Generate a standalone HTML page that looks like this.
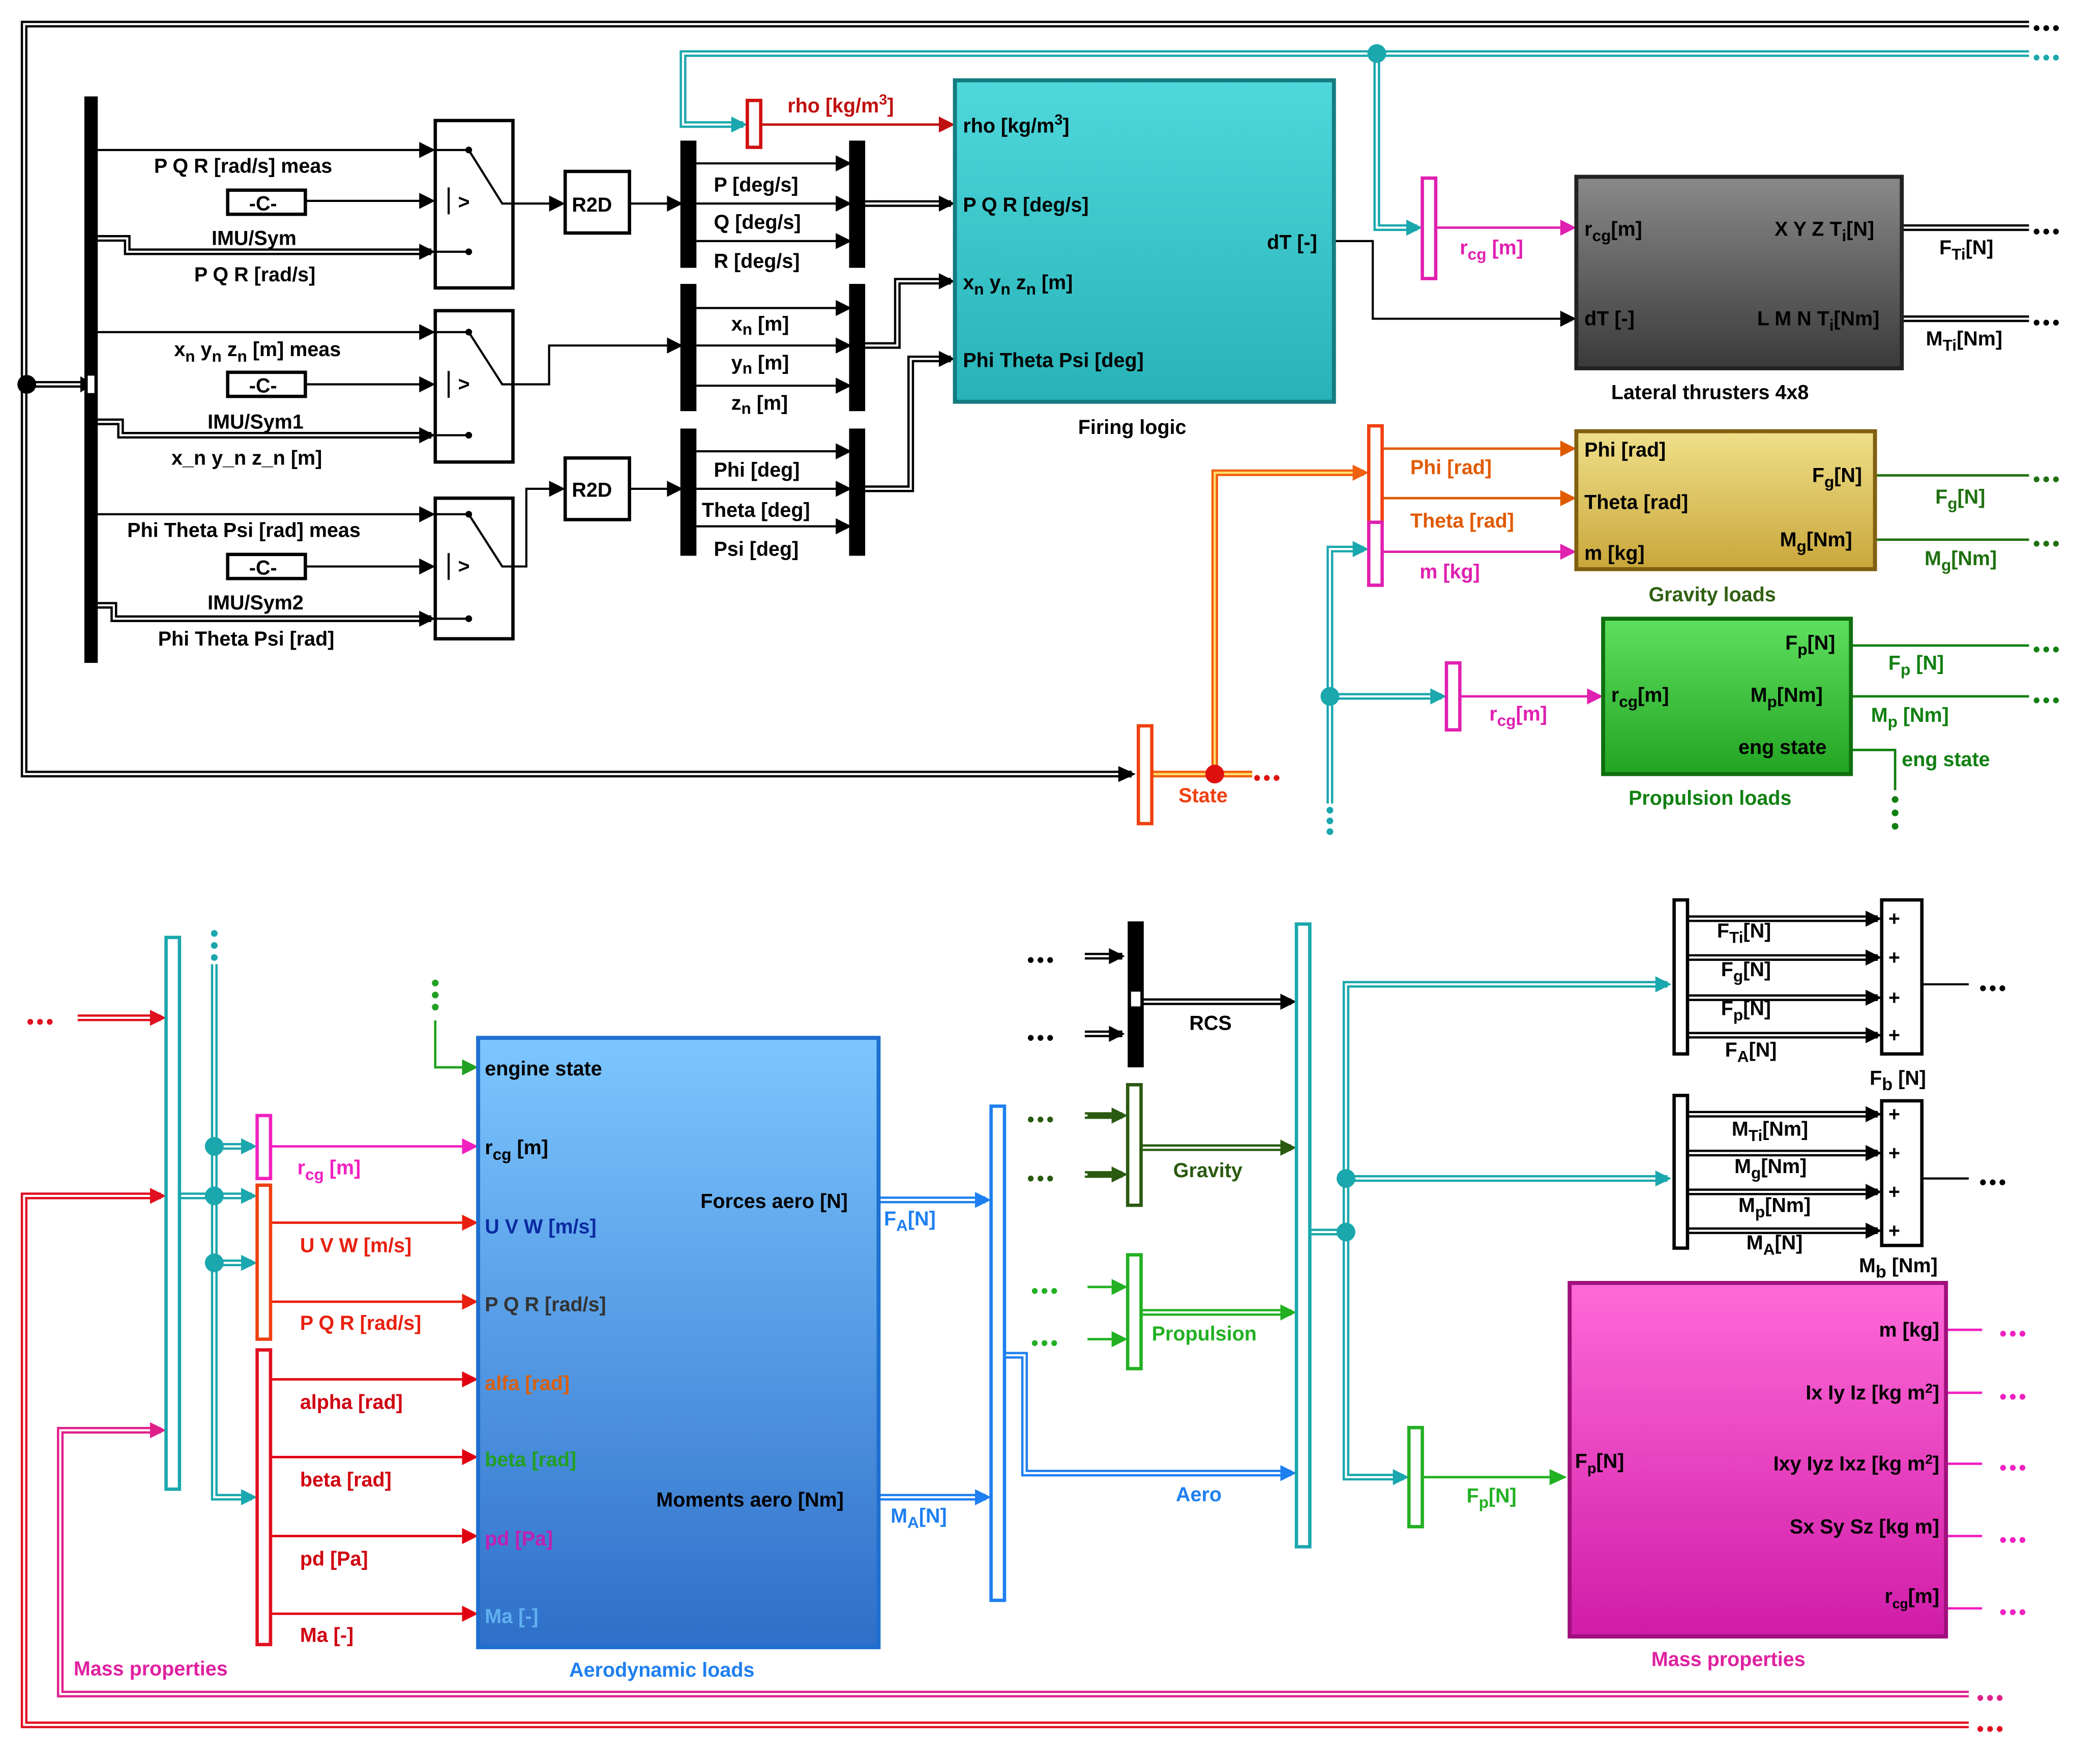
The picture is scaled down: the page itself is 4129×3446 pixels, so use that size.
<!DOCTYPE html>
<html><head><meta charset="utf-8">
<style>
html,body{margin:0;padding:0;background:#fff;}
svg{display:block;}
text{font-family:"Liberation Sans",Arial,sans-serif;font-weight:bold;font-size:15px;}
</style></head>
<body>
<svg width="4129" height="3446" viewBox="0 0 1568 1309" preserveAspectRatio="none" xmlns="http://www.w3.org/2000/svg">
<defs>
<linearGradient id="gTeal" x1="0" y1="0" x2="0" y2="1"><stop offset="0" stop-color="#4fd8dc"/><stop offset="1" stop-color="#27b3b8"/></linearGradient>
<linearGradient id="gGrey" x1="0" y1="0" x2="0" y2="1"><stop offset="0" stop-color="#8a8a8a"/><stop offset="1" stop-color="#3a3a3a"/></linearGradient>
<linearGradient id="gGold" x1="0" y1="0" x2="0" y2="1"><stop offset="0" stop-color="#efe08a"/><stop offset="1" stop-color="#c9a63a"/></linearGradient>
<linearGradient id="gGreen" x1="0" y1="0" x2="0" y2="1"><stop offset="0" stop-color="#5ee05e"/><stop offset="1" stop-color="#23a423"/></linearGradient>
<linearGradient id="gBlue" x1="0" y1="0" x2="0" y2="1"><stop offset="0" stop-color="#7cc6ff"/><stop offset="1" stop-color="#2e6fc9"/></linearGradient>
<linearGradient id="gMag" x1="0" y1="0" x2="0" y2="1"><stop offset="0" stop-color="#ff6ad8"/><stop offset="1" stop-color="#d01ca8"/></linearGradient>
<g id="dk" fill="none">
 <path d="M1515 18 H18 V578 H845"/>
 <path d="M20 287 H60"/>
 <path d="M73 178 H95 V188 H322"/>
 <path d="M73 315 H90 V325 H322"/>
 <path d="M73 452 H85 V462 H322"/>
 <path d="M646 152 H710"/>
 <path d="M646 258 H670 V210 H710"/>
 <path d="M646 365 H680 V268 H710"/>
 <path d="M1420 170 H1515"/>
 <path d="M1420 238 H1515"/>
 <path d="M810 714 H838"/><path d="M810 772 H838"/>
 <path d="M852 748 H964"/>
 <path d="M1260 686 H1402"/><path d="M1260 715 H1402"/><path d="M1260 745 H1402"/><path d="M1260 773 H1402"/>
 <path d="M1260 832 H1402"/><path d="M1260 861 H1402"/><path d="M1260 890 H1402"/><path d="M1260 919 H1402"/>
</g>
<g id="dt" fill="none">
 <path d="M1515 40 H510 V93 H555"/>
 <path d="M1028 40 V170 H1058"/>
 <path d="M993 600 V410 H1018"/>
 <path d="M993 520 H1076"/>
 <path d="M160 720 V1118 H188"/>
 <path d="M134 893 H188"/>
 <path d="M160 856 H188"/><path d="M160 943 H188"/>
 <path d="M978 920 H1005 V735 H1245"/>
 <path d="M1005 880 H1245"/>
 <path d="M1005 920 V1103 H1048"/>
</g>
<g id="dor" fill="none">
 <path d="M860 578 H935"/>
 <path d="M907 578 V353 H1018"/>
</g>
<g id="dr" fill="none">
 <path d="M58 760 H120"/>
 <path d="M1470 1288 H18 V893 H120"/>
</g>
<g id="dm" fill="none">
 <path d="M1470 1265 H45 V1068 H120"/>
</g>
<g id="db" fill="none">
 <path d="M656 896 H736"/><path d="M656 1118 H736"/>
 <path d="M750 1012 H765 V1100 H964"/>
</g>
<g id="dg" fill="none">
 <path d="M810 833 H838"/><path d="M810 877 H838"/><path d="M852 857 H964"/>
</g>
<g id="dgg" fill="none">
 <path d="M852 980 H964"/>
</g>
</defs>

<use href="#dk" stroke="#000" stroke-width="5"/><use href="#dk" stroke="#fff" stroke-width="1.6"/>
<use href="#dt" stroke="#1aa7ad" stroke-width="5"/><use href="#dt" stroke="#fff" stroke-width="1.6"/>
<use href="#dor" stroke="#f06010" stroke-width="5"/><use href="#dor" stroke="#ffe070" stroke-width="1.6"/>
<use href="#dr" stroke="#e01020" stroke-width="5"/><use href="#dr" stroke="#fff" stroke-width="1.6"/>
<use href="#dm" stroke="#e0208a" stroke-width="5"/><use href="#dm" stroke="#fff" stroke-width="1.6"/>
<use href="#db" stroke="#1e7ff0" stroke-width="5"/><use href="#db" stroke="#fff" stroke-width="1.6"/>
<use href="#dg" stroke="#2a5a10" stroke-width="5"/><use href="#dg" stroke="#fff" stroke-width="1.6"/>
<use href="#dgg" stroke="#22b022" stroke-width="5"/><use href="#dgg" stroke="#fff" stroke-width="1.6"/>

<g stroke="#000" stroke-width="1.6" fill="none">
 <path d="M73 112 H322"/><path d="M228 150 H322"/>
 <path d="M73 248 H322"/><path d="M228 287 H322"/>
 <path d="M73 384 H322"/><path d="M228 423 H322"/>
 <path d="M383 152 H419"/><path d="M470 152 H507"/>
 <path d="M383 287 H410 V258 H507"/>
 <path d="M383 423 H393 V365 H419"/><path d="M470 365 H507"/>
 <path d="M520 122 H633"/><path d="M520 152 H633"/><path d="M520 180 H633"/>
 <path d="M520 230 H633"/><path d="M520 258 H633"/><path d="M520 288 H633"/>
 <path d="M520 337 H633"/><path d="M520 365 H633"/><path d="M520 393 H633"/>
 <path d="M996 180 H1025 V238 H1174"/>
 <path d="M1435 735 H1470"/><path d="M1435 880 H1470"/>
</g>

<g fill="none" stroke-width="1.8">
 <path d="M568 93 H710" stroke="#c01010"/>
 <path d="M1072 170 H1174" stroke="#e020b0"/>
 <path d="M1032 335 H1174" stroke="#e05a00"/>
 <path d="M1032 372 H1174" stroke="#e05a00"/>
 <path d="M1032 412 H1174" stroke="#e020b0"/>
 <path d="M1090 520 H1194" stroke="#e020b0"/>
 <path d="M1400 355 H1515" stroke="#207010"/>
 <path d="M1400 403 H1515" stroke="#207010"/>
 <path d="M1382 482 H1515" stroke="#118011"/>
 <path d="M1382 520 H1515" stroke="#118011"/>
 <path d="M1382 560 H1415 V590" stroke="#118011"/>
 <path d="M202 856 H354" stroke="#f020c0"/>
 <path d="M202 913 H354" stroke="#e82010"/>
 <path d="M202 972 H354" stroke="#e82010"/>
 <path d="M202 1030 H354" stroke="#e00010"/>
 <path d="M202 1088 H354" stroke="#e00010"/>
 <path d="M202 1147 H354" stroke="#e00010"/>
 <path d="M202 1205 H354" stroke="#e00010"/>
 <path d="M325 762 V797 H354" stroke="#22a022"/>
 <path d="M1062 1103 H1167" stroke="#22b022"/>
 <path d="M1453 993 H1480" stroke="#f020c0"/>
 <path d="M1453 1040 H1480" stroke="#f020c0"/>
 <path d="M1453 1093 H1480" stroke="#f020c0"/>
 <path d="M1453 1147 H1480" stroke="#f020c0"/>
 <path d="M1453 1201 H1480" stroke="#f020c0"/>
</g>

<g fill="#000">
 <polygon points="60,281 70,287 60,293"/>
 <polygon points="313,106 325,112 313,118"/><polygon points="313,144 325,150 313,156"/><polygon points="313,182 325,188 313,194"/>
 <polygon points="313,242 325,248 313,254"/><polygon points="313,281 325,287 313,293"/><polygon points="313,319 325,325 313,331"/>
 <polygon points="313,378 325,384 313,390"/><polygon points="313,417 325,423 313,429"/><polygon points="313,456 325,462 313,468"/>
 <polygon points="410,146 422,152 410,158"/><polygon points="498,146 510,152 498,158"/>
 <polygon points="498,252 510,258 498,264"/>
 <polygon points="410,359 422,365 410,371"/><polygon points="498,359 510,365 498,371"/>
 <polygon points="624,116 636,122 624,128"/><polygon points="624,146 636,152 624,158"/><polygon points="624,174 636,180 624,186"/>
 <polygon points="624,224 636,230 624,236"/><polygon points="624,252 636,258 624,264"/><polygon points="624,282 636,288 624,294"/>
 <polygon points="624,331 636,337 624,343"/><polygon points="624,359 636,365 624,371"/><polygon points="624,387 636,393 624,399"/>
 <polygon points="701,146 713,152 701,158"/><polygon points="701,204 713,210 701,216"/><polygon points="701,262 713,268 701,274"/>
 <polygon points="1165,232 1177,238 1165,244"/>
 <polygon points="835,572 848,578 835,584"/>
 <polygon points="828,708 840,714 828,720"/><polygon points="828,766 840,772 828,778"/>
 <polygon points="956,742 968,748 956,754"/>
 <polygon points="1393,680 1405,686 1393,692"/><polygon points="1393,709 1405,715 1393,721"/><polygon points="1393,739 1405,745 1393,751"/><polygon points="1393,767 1405,773 1393,779"/>
 <polygon points="1393,826 1405,832 1393,838"/><polygon points="1393,855 1405,861 1393,867"/><polygon points="1393,884 1405,890 1393,896"/><polygon points="1393,913 1405,919 1393,925"/>
</g>
<g>
 <polygon points="546,87 558,93 546,99" fill="#1aa7ad"/>
 <polygon points="701,87 713,93 701,99" fill="#c01010"/>
 <polygon points="1050,164 1062,170 1050,176" fill="#1aa7ad"/>
 <polygon points="1165,164 1177,170 1165,176" fill="#e020b0"/>
 <polygon points="1010,347 1022,353 1010,359" fill="#f06010"/>
 <polygon points="1165,329 1177,335 1165,341" fill="#e05a00"/>
 <polygon points="1165,366 1177,372 1165,378" fill="#e05a00"/>
 <polygon points="1165,406 1177,412 1165,418" fill="#e020b0"/>
 <polygon points="1010,404 1022,410 1010,416" fill="#1aa7ad"/>
 <polygon points="1068,514 1080,520 1068,526" fill="#1aa7ad"/>
 <polygon points="1185,514 1197,520 1185,526" fill="#e020b0"/>
 <polygon points="112,754 124,760 112,766" fill="#e01020"/>
 <polygon points="112,887 124,893 112,899" fill="#e01020"/>
 <polygon points="112,1062 124,1068 112,1074" fill="#e0208a"/>
 <polygon points="180,850 192,856 180,862" fill="#1aa7ad"/>
 <polygon points="180,887 192,893 180,899" fill="#1aa7ad"/>
 <polygon points="180,937 192,943 180,949" fill="#1aa7ad"/>
 <polygon points="180,1112 192,1118 180,1124" fill="#1aa7ad"/>
 <polygon points="345,791 357,797 345,803" fill="#22a022"/>
 <polygon points="345,850 357,856 345,862" fill="#f020c0"/>
 <polygon points="345,907 357,913 345,919" fill="#e82010"/>
 <polygon points="345,966 357,972 345,978" fill="#e82010"/>
 <polygon points="345,1024 357,1030 345,1036" fill="#e00010"/>
 <polygon points="345,1082 357,1088 345,1094" fill="#e00010"/>
 <polygon points="345,1141 357,1147 345,1153" fill="#e00010"/>
 <polygon points="345,1199 357,1205 345,1211" fill="#e00010"/>
 <polygon points="728,890 740,896 728,902" fill="#1e7ff0"/>
 <polygon points="728,1112 740,1118 728,1124" fill="#1e7ff0"/>
 <polygon points="956,1094 968,1100 956,1106" fill="#1e7ff0"/>
 <polygon points="830,827 842,833 830,839" fill="#2a5a10"/>
 <polygon points="830,871 842,877 830,883" fill="#2a5a10"/>
 <polygon points="956,851 968,857 956,863" fill="#2a5a10"/>
 <polygon points="830,955 842,961 830,967" fill="#22b022"/>
 <polygon points="830,994 842,1000 830,1006" fill="#22b022"/>
 <polygon points="956,974 968,980 956,986" fill="#22b022"/>
 <polygon points="1236,729 1248,735 1236,741" fill="#1aa7ad"/>
 <polygon points="1236,874 1248,880 1236,886" fill="#1aa7ad"/>
 <polygon points="1040,1097 1052,1103 1040,1109" fill="#1aa7ad"/>
 <polygon points="1157,1097 1170,1103 1157,1109" fill="#22b022"/>
</g>
<g fill="none" stroke-width="1.8"><path d="M812 833 H830" stroke="#2a5a10"/><path d="M812 877 H830" stroke="#2a5a10"/><path d="M812 961 H830" stroke="#22b022"/><path d="M812 1000 H830" stroke="#22b022"/></g>

<circle cx="20" cy="287" r="7" fill="#000"/>
<circle cx="1028" cy="40" r="7" fill="#1aa7ad"/>
<circle cx="907" cy="578" r="7" fill="#e01010"/>
<circle cx="993" cy="520" r="7" fill="#1aa7ad"/>
<circle cx="160" cy="856" r="7" fill="#1aa7ad"/><circle cx="160" cy="893" r="7" fill="#1aa7ad"/><circle cx="160" cy="943" r="7" fill="#1aa7ad"/>
<circle cx="1005" cy="880" r="7" fill="#1aa7ad"/><circle cx="1005" cy="920" r="7" fill="#1aa7ad"/>

<rect x="63" y="72" width="10" height="423" fill="#000"/>
<rect x="65" y="280" width="6" height="14" fill="#fff" stroke="#000"/>
<rect x="508" y="105" width="12" height="95" fill="#000"/><rect x="634" y="105" width="12" height="95" fill="#000"/>
<rect x="508" y="212" width="12" height="95" fill="#000"/><rect x="634" y="212" width="12" height="95" fill="#000"/>
<rect x="508" y="320" width="12" height="95" fill="#000"/><rect x="634" y="320" width="12" height="95" fill="#000"/>
<rect x="558" y="75" width="10" height="35" fill="#fff" stroke="#d01010" stroke-width="2.5"/>
<rect x="1062" y="133" width="10" height="75" fill="#fff" stroke="#e020b0" stroke-width="2.5"/>
<rect x="850" y="542" width="10" height="73" fill="#fff" stroke="#f04010" stroke-width="2.5"/>
<rect x="1022" y="318" width="10" height="72" fill="#fff" stroke="#f04010" stroke-width="2.5"/>
<rect x="1022" y="390" width="10" height="47" fill="#fff" stroke="#e020b0" stroke-width="2.5"/>
<rect x="1080" y="495" width="10" height="50" fill="#fff" stroke="#e020b0" stroke-width="2.5"/>
<rect x="124" y="700" width="10" height="412" fill="#fff" stroke="#1aa7ad" stroke-width="2.5"/>
<rect x="192" y="833" width="10" height="47" fill="#fff" stroke="#f020c0" stroke-width="2.5"/>
<rect x="192" y="885" width="10" height="115" fill="#fff" stroke="#f04010" stroke-width="2.5"/>
<rect x="192" y="1008" width="10" height="220" fill="#fff" stroke="#e01020" stroke-width="2.5"/>
<rect x="740" y="826" width="10" height="369" fill="#fff" stroke="#1e7ff0" stroke-width="2.5"/>
<rect x="842" y="688" width="12" height="109" fill="#000"/>
<rect x="844" y="740" width="8" height="12" fill="#fff" stroke="#000"/>
<rect x="842" y="810" width="10" height="90" fill="#fff" stroke="#2a5a10" stroke-width="2.5"/>
<rect x="842" y="937" width="10" height="85" fill="#fff" stroke="#22b022" stroke-width="2.5"/>
<rect x="968" y="690" width="10" height="465" fill="#fff" stroke="#1aa7ad" stroke-width="2.5"/>
<rect x="1052" y="1066" width="10" height="74" fill="#fff" stroke="#22b022" stroke-width="2.5"/>
<rect x="1250" y="672" width="10" height="115" fill="#fff" stroke="#000" stroke-width="2.5"/>
<rect x="1250" y="818" width="10" height="114" fill="#fff" stroke="#000" stroke-width="2.5"/>
<rect x="1405" y="672" width="30" height="115" fill="#fff" stroke="#000" stroke-width="2.5"/>
<rect x="1405" y="822" width="30" height="108" fill="#fff" stroke="#000" stroke-width="2.5"/>
<g font-size="14"><text x="1410" y="691">+</text><text x="1410" y="720">+</text><text x="1410" y="750">+</text><text x="1410" y="778">+</text>
<text x="1410" y="837">+</text><text x="1410" y="866">+</text><text x="1410" y="895">+</text><text x="1410" y="924">+</text></g>

<g fill="none" stroke="#000" stroke-width="2.5">
 <rect x="325" y="90" width="58" height="125"/><rect x="325" y="232" width="58" height="113"/><rect x="325" y="372" width="58" height="105"/>
</g>
<g fill="#fff" stroke="#000" stroke-width="2.5">
 <rect x="170" y="142" width="58" height="18"/><rect x="170" y="278" width="58" height="18"/><rect x="170" y="414" width="58" height="18"/>
 <rect x="422" y="128" width="48" height="46"/><rect x="422" y="342" width="48" height="46"/>
</g>
<g stroke="#000" stroke-width="1.6" fill="none">
 <path d="M325 112 H350 L375 152 H383"/><path d="M325 188 H350"/>
 <path d="M325 248 H350 L375 287 H383"/><path d="M325 325 H350"/>
 <path d="M325 384 H350 L375 423 H383"/><path d="M325 462 H350"/>
 <path d="M335 140 V160"/><path d="M335 277 V297"/><path d="M335 413 V433"/>
</g>
<g font-size="13"><text x="342" y="156">&gt;</text><text x="342" y="292">&gt;</text><text x="342" y="428">&gt;</text></g>
<g fill="#000"><circle cx="350" cy="112" r="2.5"/><circle cx="350" cy="188" r="2.5"/><circle cx="350" cy="248" r="2.5"/><circle cx="350" cy="325" r="2.5"/><circle cx="350" cy="384" r="2.5"/><circle cx="350" cy="462" r="2.5"/></g>
<g><text x="186" y="157">-C-</text><text x="186" y="293">-C-</text><text x="186" y="429">-C-</text>
<text x="427" y="158" font-size="17">R2D</text><text x="427" y="371" font-size="17">R2D</text></g>

<rect x="713" y="60" width="283" height="240" fill="url(#gTeal)" stroke="#147c80" stroke-width="3"/>
<rect x="1177" y="132" width="243" height="143" fill="url(#gGrey)" stroke="#222" stroke-width="3"/>
<rect x="1177" y="322" width="223" height="103" fill="url(#gGold)" stroke="#806010" stroke-width="3"/>
<rect x="1197" y="462" width="185" height="116" fill="url(#gGreen)" stroke="#0f700f" stroke-width="3"/>
<rect x="357" y="775" width="299" height="455" fill="url(#gBlue)" stroke="#1e6fd0" stroke-width="3"/>
<rect x="1172" y="958" width="281" height="264" fill="url(#gMag)" stroke="#a0107c" stroke-width="3"/>

<text x="115" y="129">P Q R [rad/s] meas</text>
<text x="158" y="183">IMU/Sym</text>
<text x="145" y="210">P Q R [rad/s]</text>
<text x="130" y="266">x<tspan dy="4" font-size="12">n</tspan><tspan dy="-4"> y</tspan><tspan dy="4" font-size="12">n</tspan><tspan dy="-4"> z</tspan><tspan dy="4" font-size="12">n</tspan><tspan dy="-4"> [m] meas</tspan></text>
<text x="155" y="320">IMU/Sym1</text>
<text x="128" y="347">x_n y_n z_n [m]</text>
<text x="95" y="401">Phi Theta Psi [rad] meas</text>
<text x="155" y="455">IMU/Sym2</text>
<text x="118" y="482">Phi Theta Psi [rad]</text>
<text x="533" y="143">P [deg/s]</text><text x="533" y="171">Q [deg/s]</text><text x="533" y="200">R [deg/s]</text>
<text x="546" y="247">x<tspan font-size="12" dy="3">n</tspan><tspan dy="-3"> [m]</tspan></text>
<text x="546" y="276">y<tspan font-size="12" dy="3">n</tspan><tspan dy="-3"> [m]</tspan></text>
<text x="546" y="306">z<tspan font-size="12" dy="3">n</tspan><tspan dy="-3"> [m]</tspan></text>
<text x="533" y="356">Phi [deg]</text><text x="524" y="386">Theta [deg]</text><text x="533" y="415">Psi [deg]</text>
<text x="588" y="84" fill="#c01010">rho [kg/m<tspan dy="-6" font-size="11">3</tspan><tspan dy="6">]</tspan></text>
<text x="719" y="99">rho [kg/m<tspan dy="-6" font-size="11">3</tspan><tspan dy="6">]</tspan></text>
<text x="719" y="158">P Q R [deg/s]</text>
<text x="719" y="216">x<tspan font-size="12" dy="4">n</tspan><tspan dy="-4"> y</tspan><tspan font-size="12" dy="4">n</tspan><tspan dy="-4"> z</tspan><tspan font-size="12" dy="4">n</tspan><tspan dy="-4"> [m]</tspan></text>
<text x="719" y="274">Phi Theta Psi [deg]</text>
<text x="946" y="186">dT [-]</text>
<text x="805" y="324" font-size="17">Firing  logic</text>
<text x="1090" y="190" fill="#e020b0">r<tspan font-size="12" dy="4">cg</tspan><tspan dy="-4"> [m]</tspan></text>
<text x="1183" y="176">r<tspan font-size="12" dy="4">cg</tspan><tspan dy="-4">[m]</tspan></text>
<text x="1183" y="243">dT [-]</text>
<text x="1325" y="176">X Y Z T<tspan font-size="12" dy="4">i</tspan><tspan dy="-4">[N]</tspan></text>
<text x="1312" y="243">L M N T<tspan font-size="12" dy="4">i</tspan><tspan dy="-4">[Nm]</tspan></text>
<text x="1203" y="298" font-size="17">Lateral  thrusters  4x8</text>
<text x="1448" y="190">F<tspan font-size="12" dy="4">Ti</tspan><tspan dy="-4">[N]</tspan></text>
<text x="1438" y="258">M<tspan font-size="12" dy="4">Ti</tspan><tspan dy="-4">[Nm]</tspan></text>
<text x="1053" y="354" fill="#e05a00">Phi [rad]</text>
<text x="1053" y="394" fill="#e05a00">Theta [rad]</text>
<text x="1060" y="432" fill="#e020b0">m [kg]</text>
<text x="1183" y="341">Phi [rad]</text>
<text x="1183" y="380">Theta [rad]</text>
<text x="1183" y="418">m [kg]</text>
<text x="1353" y="360">F<tspan font-size="12" dy="4">g</tspan><tspan dy="-4">[N]</tspan></text>
<text x="1329" y="408">M<tspan font-size="12" dy="4">g</tspan><tspan dy="-4">[Nm]</tspan></text>
<text x="1231" y="449" font-size="17" fill="#306010">Gravity loads</text>
<text x="1445" y="376" fill="#207010">F<tspan font-size="12" dy="4">g</tspan><tspan dy="-4">[N]</tspan></text>
<text x="1437" y="422" fill="#207010">M<tspan font-size="12" dy="4">g</tspan><tspan dy="-4">[Nm]</tspan></text>
<text x="1333" y="485">F<tspan font-size="12" dy="4">p</tspan><tspan dy="-4">[N]</tspan></text>
<text x="1307" y="524">M<tspan font-size="12" dy="4">p</tspan><tspan dy="-4">[Nm]</tspan></text>
<text x="1298" y="563">eng  state</text>
<text x="1203" y="524">r<tspan font-size="12" dy="4">cg</tspan><tspan dy="-4">[m]</tspan></text>
<text x="1216" y="601" font-size="17" fill="#118011">Propulsion loads</text>
<text x="1410" y="500" fill="#118011">F<tspan font-size="12" dy="4">p</tspan><tspan dy="-4"> [N]</tspan></text>
<text x="1397" y="539" fill="#118011">M<tspan font-size="12" dy="4">p</tspan><tspan dy="-4"> [Nm]</tspan></text>
<text x="1420" y="572" fill="#118011">eng  state</text>
<text x="1112" y="538" fill="#e020b0">r<tspan font-size="12" dy="4">cg</tspan><tspan dy="-4">[m]</tspan></text>
<text x="880" y="599" fill="#f04010">State</text>

<text x="362" y="803">engine state</text>
<text x="362" y="862">r<tspan font-size="12" dy="4">cg</tspan><tspan dy="-4"> [m]</tspan></text>
<text x="362" y="921" fill="#0a2aa0">U V W [m/s]</text>
<text x="362" y="979" fill="#333">P Q R [rad/s]</text>
<text x="362" y="1038" fill="#d86010">alfa [rad]</text>
<text x="362" y="1095" fill="#22a022">beta [rad]</text>
<text x="362" y="1154" fill="#c020b0">pd [Pa]</text>
<text x="362" y="1212" fill="#60b0f0">Ma [-]</text>
<text x="523" y="902">Forces  aero [N]</text>
<text x="490" y="1125">Moments  aero [Nm]</text>
<text x="425" y="1252" font-size="17" fill="#1e7ff0">Aerodynamic loads</text>
<text x="222" y="877" fill="#f020c0">r<tspan font-size="12" dy="4">cg</tspan><tspan dy="-4"> [m]</tspan></text>
<text x="224" y="935" fill="#e82010">U V W [m/s]</text>
<text x="224" y="993" fill="#e82010">P Q R [rad/s]</text>
<text x="224" y="1052" fill="#d00010">alpha [rad]</text>
<text x="224" y="1110" fill="#d00010">beta [rad]</text>
<text x="224" y="1169" fill="#d00010">pd [Pa]</text>
<text x="224" y="1226" fill="#d00010">Ma [-]</text>
<text x="55" y="1251" fill="#e020a0">Mass properties</text>
<text x="660" y="915" fill="#1e7ff0">F<tspan font-size="12" dy="4">A</tspan><tspan dy="-4">[N]</tspan></text>
<text x="665" y="1137" fill="#1e7ff0">M<tspan font-size="12" dy="4">A</tspan><tspan dy="-4">[N]</tspan></text>
<text x="888" y="769">RCS</text>
<text x="876" y="879" fill="#2a5a10">Gravity</text>
<text x="860" y="1001" fill="#22b022">Propulsion</text>
<text x="878" y="1121" fill="#1e7ff0">Aero</text>
<text x="1095" y="1122" fill="#22b022">F<tspan font-size="12" dy="4">p</tspan><tspan dy="-4">[N]</tspan></text>
<text x="1282" y="700">F<tspan font-size="12" dy="4">Ti</tspan><tspan dy="-4">[N]</tspan></text>
<text x="1285" y="729">F<tspan font-size="12" dy="4">g</tspan><tspan dy="-4">[N]</tspan></text>
<text x="1285" y="758">F<tspan font-size="12" dy="4">p</tspan><tspan dy="-4">[N]</tspan></text>
<text x="1288" y="789">F<tspan font-size="12" dy="4">A</tspan><tspan dy="-4">[N]</tspan></text>
<text x="1396" y="810" font-size="17">F<tspan font-size="13" dy="4">b</tspan><tspan dy="-4"> [N]</tspan></text>
<text x="1293" y="848">M<tspan font-size="12" dy="4">Ti</tspan><tspan dy="-4">[Nm]</tspan></text>
<text x="1295" y="876">M<tspan font-size="12" dy="4">g</tspan><tspan dy="-4">[Nm]</tspan></text>
<text x="1298" y="905">M<tspan font-size="12" dy="4">p</tspan><tspan dy="-4">[Nm]</tspan></text>
<text x="1304" y="933">M<tspan font-size="12" dy="4">A</tspan><tspan dy="-4">[N]</tspan></text>
<text x="1388" y="950" font-size="17">M<tspan font-size="13" dy="4">b</tspan><tspan dy="-4"> [Nm]</tspan></text>
<text x="1176" y="1096" font-size="13">F<tspan font-size="11" dy="4">p</tspan><tspan dy="-4">[N]</tspan></text>
<g font-size="13" text-anchor="end" font-weight="normal">
 <text x="1448" y="998">m [kg]</text>
 <text x="1448" y="1045">Ix Iy Iz [kg m<tspan dy="-5" font-size="10">2</tspan><tspan dy="5">]</tspan></text>
 <text x="1448" y="1098">Ixy Iyz Ixz [kg m<tspan dy="-5" font-size="10">2</tspan><tspan dy="5">]</tspan></text>
 <text x="1448" y="1145">Sx Sy Sz [kg m]</text>
 <text x="1448" y="1197">r<tspan font-size="10" dy="4">cg</tspan><tspan dy="-4">[m]</tspan></text>
</g>
<text x="1233" y="1244" font-size="17" fill="#e020a0">Mass properties</text>

<g font-size="26" font-weight="bold" letter-spacing="2">
 <text x="1518" y="26">•••</text>
 <text x="1518" y="48" fill="#1aa7ad">•••</text>
 <text x="1518" y="178">•••</text>
 <text x="1518" y="246">•••</text>
 <text x="1518" y="363" fill="#207010">•••</text>
 <text x="1518" y="411" fill="#207010">•••</text>
 <text x="1518" y="490" fill="#118011">•••</text>
 <text x="1518" y="528" fill="#118011">•••</text>
 <text x="936" y="586" fill="#e01010">•••</text>
 <text x="20" y="768" fill="#e01020">•••</text>
 <text x="767" y="722">•••</text>
 <text x="767" y="780">•••</text>
 <text x="767" y="841" fill="#2a5a10">•••</text>
 <text x="767" y="885" fill="#2a5a10">•••</text>
 <text x="770" y="969" fill="#22b022">•••</text>
 <text x="770" y="1008" fill="#22b022">•••</text>
 <text x="1478" y="743">•••</text>
 <text x="1478" y="888">•••</text>
 <text x="1493" y="1001" fill="#f020c0">•••</text>
 <text x="1493" y="1048" fill="#f020c0">•••</text>
 <text x="1493" y="1101" fill="#f020c0">•••</text>
 <text x="1493" y="1155" fill="#f020c0">•••</text>
 <text x="1493" y="1209" fill="#f020c0">•••</text>
 <text x="1476" y="1273" fill="#e0208a">•••</text>
 <text x="1476" y="1296" fill="#e01020">•••</text>
</g>
<g>
 <circle cx="993" cy="605" r="2.5" fill="#1aa7ad"/><circle cx="993" cy="613" r="2.5" fill="#1aa7ad"/><circle cx="993" cy="621" r="2.5" fill="#1aa7ad"/>
 <circle cx="1415" cy="597" r="2.5" fill="#118011"/><circle cx="1415" cy="607" r="2.5" fill="#118011"/><circle cx="1415" cy="617" r="2.5" fill="#118011"/>
 <circle cx="160" cy="697" r="2.5" fill="#1aa7ad"/><circle cx="160" cy="706" r="2.5" fill="#1aa7ad"/><circle cx="160" cy="715" r="2.5" fill="#1aa7ad"/>
 <circle cx="325" cy="734" r="2.5" fill="#22a022"/><circle cx="325" cy="743" r="2.5" fill="#22a022"/><circle cx="325" cy="752" r="2.5" fill="#22a022"/>
</g>
</svg>
</body></html>
